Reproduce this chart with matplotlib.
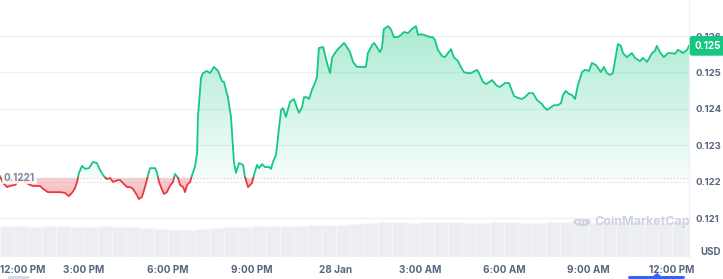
import numpy as np
import matplotlib
matplotlib.use("Agg")
import matplotlib.pyplot as plt
import matplotlib.colors as mcolors
from matplotlib.path import Path
from matplotlib.patches import Circle, FancyBboxPatch, Polygon

plt.rcParams['font.family'] = ['Inter', 'DejaVu Sans']

# hours since 12:00 PM (27 Jan) and price in USD
hours = [0.00, 0.11, 0.25, 0.36, 0.54, 0.64, 0.79, 0.89, 1.07, 1.18, 1.43, 1.54, 1.71, 1.96,
         2.14, 2.32, 2.46, 2.57, 2.68, 2.75, 2.82, 2.93, 3.04, 3.18, 3.32, 3.46, 3.57, 3.71,
         3.82, 3.93, 4.04, 4.21, 4.29, 4.39, 4.54, 4.64, 4.75, 4.89, 4.96, 5.07, 5.18, 5.29,
         5.36, 5.54, 5.61, 5.68, 5.79, 5.86, 5.96, 6.07, 6.18, 6.25, 6.36, 6.43, 6.54, 6.61,
         6.68, 6.79, 6.86, 6.96, 7.04, 7.07, 7.18, 7.25, 7.39, 7.50, 7.64, 7.79, 7.93, 8.00,
         8.14, 8.25, 8.32, 8.36, 8.43, 8.54, 8.68, 8.75, 8.86, 9.00, 9.07, 9.18, 9.25, 9.36,
         9.46, 9.61, 9.68, 9.75, 9.86, 9.93, 10.04, 10.11, 10.21, 10.36, 10.50, 10.61, 10.68,
         10.79, 10.86, 10.96, 11.04, 11.14, 11.25, 11.32, 11.39, 11.54, 11.68, 11.79, 11.86,
         11.96, 12.07, 12.21, 12.29, 12.39, 12.50, 12.61, 12.75, 12.86, 12.96, 13.07, 13.14,
         13.29, 13.36, 13.46, 13.57, 13.64, 13.71, 13.86, 13.96, 14.07, 14.21, 14.32, 14.43,
         14.57, 14.71, 14.86, 14.93, 15.07, 15.25, 15.36, 15.46, 15.54, 15.64, 15.79, 15.89,
         16.00, 16.11, 16.21, 16.36, 16.46, 16.57, 16.71, 16.82, 16.89, 17.04, 17.11, 17.25,
         17.36, 17.43, 17.57, 17.75, 17.86, 18.04, 18.18, 18.36, 18.50, 18.64, 18.75, 18.89,
         19.04, 19.18, 19.36, 19.43, 19.54, 19.64, 19.79, 19.93, 20.04, 20.11, 20.21, 20.32,
         20.43, 20.54, 20.64, 20.79, 20.89, 21.04, 21.14, 21.29, 21.46, 21.57, 21.68, 21.79,
         21.89, 22.07, 22.18, 22.25, 22.39, 22.57, 22.68, 22.86, 22.96, 23.11, 23.29, 23.39,
         23.46, 23.57, 23.71, 23.86, 24.00, 24.11, 24.21, 24.36, 24.39, 24.54, 24.61]
prices = [0.12215, 0.12196, 0.12185, 0.12188, 0.12191, 0.12199, 0.12207, 0.12199, 0.12191,
          0.12188, 0.12188, 0.12180, 0.12171, 0.12171, 0.12171, 0.12169, 0.12160, 0.12169,
          0.12182, 0.12199, 0.12224, 0.12243, 0.12235, 0.12237, 0.12254, 0.12251, 0.12232,
          0.12215, 0.12207, 0.12210, 0.12199, 0.12204, 0.12204, 0.12196, 0.12185, 0.12185,
          0.12180, 0.12163, 0.12152, 0.12158, 0.12185, 0.12218, 0.12237, 0.12237, 0.12224,
          0.12199, 0.12177, 0.12166, 0.12171, 0.12188, 0.12199, 0.12221, 0.12210, 0.12191,
          0.12185, 0.12171, 0.12191, 0.12199, 0.12218, 0.12240, 0.12279, 0.12378, 0.12485,
          0.12498, 0.12504, 0.12498, 0.12515, 0.12504, 0.12476, 0.12474, 0.12432, 0.12378,
          0.12295, 0.12251, 0.12224, 0.12251, 0.12246, 0.12213, 0.12185, 0.12196, 0.12218,
          0.12246, 0.12237, 0.12248, 0.12240, 0.12240, 0.12235, 0.12254, 0.12273, 0.12323,
          0.12397, 0.12402, 0.12378, 0.12419, 0.12427, 0.12402, 0.12389, 0.12405, 0.12432,
          0.12432, 0.12427, 0.12452, 0.12471, 0.12487, 0.12567, 0.12570, 0.12526, 0.12498,
          0.12540, 0.12553, 0.12564, 0.12575, 0.12581, 0.12570, 0.12556, 0.12529, 0.12515,
          0.12515, 0.12515, 0.12515, 0.12553, 0.12575, 0.12581, 0.12570, 0.12556, 0.12567,
          0.12619, 0.12627, 0.12619, 0.12597, 0.12597, 0.12603, 0.12611, 0.12608, 0.12619,
          0.12627, 0.12603, 0.12605, 0.12600, 0.12597, 0.12597, 0.12589, 0.12562, 0.12545,
          0.12542, 0.12553, 0.12564, 0.12542, 0.12531, 0.12515, 0.12501, 0.12498, 0.12498,
          0.12501, 0.12507, 0.12498, 0.12474, 0.12468, 0.12471, 0.12479, 0.12463, 0.12460,
          0.12471, 0.12471, 0.12435, 0.12430, 0.12427, 0.12432, 0.12443, 0.12443, 0.12424,
          0.12413, 0.12405, 0.12397, 0.12402, 0.12410, 0.12410, 0.12416, 0.12438, 0.12449,
          0.12441, 0.12438, 0.12427, 0.12465, 0.12501, 0.12507, 0.12504, 0.12526, 0.12520,
          0.12501, 0.12515, 0.12498, 0.12493, 0.12498, 0.12578, 0.12573, 0.12553, 0.12542,
          0.12553, 0.12540, 0.12531, 0.12540, 0.12529, 0.12553, 0.12559, 0.12573, 0.12556,
          0.12542, 0.12553, 0.12553, 0.12551, 0.12562, 0.12556, 0.12553, 0.12562, 0.12573]

# volume, one bar per half hour (relative units)
volume = [3.1, 3.1, 3.0, 3.1, 3.1, 3.0, 3.0, 3.1, 3.0, 3.0, 2.9,
          2.8, 2.7, 2.7, 2.8,
          2.9, 3.0, 3.0, 3.1, 3.1, 3.1, 3.1, 3.2, 3.2, 3.2,
          3.3, 3.4, 3.5, 3.5, 3.4, 3.5, 3.5, 3.5, 3.4, 3.4, 3.5, 3.5, 3.4,
          3.4, 3.5, 3.5, 3.5, 3.4, 3.5, 3.5, 3.5, 3.4, 3.4, 3.5, 3.5]
vol_step = 0.5

base_price = 0.1221
yticks = [0.121, 0.122, 0.123, 0.124, 0.125, 0.126]
xticks = [0, 3, 6, 9, 12, 15, 18, 21, 24]
xlabels = ['12:00 PM', '3:00 PM', '6:00 PM', '9:00 PM', '28 Jan',
           '3:00 AM', '6:00 AM', '9:00 AM', '12:00 PM']

GREEN = '#16c784'
RED = '#ea3943'
TXT = '#58667e'

t = np.array(hours)
p = np.array(prices)

fig = plt.figure(figsize=(7.23, 2.79), dpi=100)
W, H = 723, 279
ax_rect = [0, 22 / H, 689 / W, 257 / H]

# volume underneath
vax = fig.add_axes([0, 22 / H, 689 / W, 39 / H], zorder=0)
vt = np.arange(len(volume)) * vol_step
vax.bar(vt, volume, width=vol_step, align='edge', color='#eceef2',
        edgecolor='#f6f7f9', linewidth=0.6)
vax.set_xlim(0, t[-1])
vax.set_ylim(0, 3.9)
vax.axis('off')

ax = fig.add_axes(ax_rect, zorder=1)
ax.patch.set_alpha(0)
ylo, yhi = 0.119929, 0.126989

for yv in yticks:
    ax.axhline(yv, color='#eff2f5', lw=1.0, zorder=0)


def gradient_fill(mask, upper, a_near, a_far, color):
    poly = ax.fill_between(t, p, base_price, where=mask, interpolate=True,
                           facecolor='none', edgecolor='none')
    paths = poly.get_paths()
    if not paths:
        return
    clip = Path.make_compound_path(*paths)
    grad = np.zeros((256, 1, 4))
    grad[..., :3] = mcolors.to_rgb(color)
    if upper:
        grad[..., 3] = np.linspace(a_near, a_far, 256)[:, None]
        ext = [0, t[-1], base_price, p.max()]
    else:
        grad[..., 3] = np.linspace(a_far, a_near, 256)[:, None]
        ext = [0, t[-1], p.min(), base_price]
    im = ax.imshow(grad, extent=ext, origin='lower', aspect='auto',
                   interpolation='bilinear', zorder=1)
    im.set_clip_path(clip, transform=ax.transData)


gradient_fill(p >= base_price, True, 0.04, 0.36, GREEN)
gradient_fill(p <= base_price, False, 0.22, 0.38, RED)

# split the line at the base price
tt, pp = [t[0]], [p[0]]
for i in range(len(t) - 1):
    a, b = p[i] - base_price, p[i + 1] - base_price
    if a * b < 0:
        tc = t[i] + (-a) * (t[i + 1] - t[i]) / (b - a)
        tt.append(tc)
        pp.append(base_price)
    tt.append(t[i + 1])
    pp.append(p[i + 1])
tt, pp = np.array(tt), np.array(pp)
ax.plot(tt, np.ma.masked_where(pp < base_price - 1e-9, pp), color=GREEN, lw=1.3, zorder=3)
ax.plot(tt, np.ma.masked_where(pp > base_price + 1e-9, pp), color=RED, lw=1.3, zorder=3)

ax.axhline(base_price, color='#c2c6cf', lw=0.8, ls=(0, (1, 2)), zorder=2)
ax.text(0.14, base_price, '0.1221', fontsize=7.2, fontweight='bold', color='#7d8597',
        va='center', ha='left', zorder=4,
        bbox=dict(boxstyle='square,pad=0.15', fc='white', ec='none', alpha=0.8))

ax.set_ylim(ylo, yhi)
ax.set_xlim(0, t[-1])

# axes styling
for s in ['top', 'left', 'bottom']:
    ax.spines[s].set_visible(False)
ax.spines['right'].set_color('#eff2f5')
ax.spines['right'].set_linewidth(1.0)
ax.yaxis.tick_right()
ax.set_yticks(yticks)
ax.set_yticklabels([f'{v:.3f}' for v in yticks])
ax.set_xticks(xticks)
ax.set_xticklabels(xlabels)
ax.tick_params(axis='y', length=0, pad=5, labelsize=6.9, labelcolor=TXT)
ax.tick_params(axis='x', length=0, pad=5.5, labelsize=7.2, labelcolor=TXT)
for lab in ax.get_yticklabels() + ax.get_xticklabels():
    lab.set_fontweight('bold')
ax.get_xticklabels()[0].set_horizontalalignment('left')

# current price tag
ax.text(1.008, p[-1], '0.125', transform=ax.get_yaxis_transform(), fontsize=7,
        fontweight='bold', color='white', va='center', ha='left', zorder=5,
        bbox=dict(boxstyle='round,pad=0.5,rounding_size=0.25', fc=GREEN, ec='none'),
        clip_on=False)

fig.text(700 / W, 1 - 252 / H, 'USD', fontsize=7, fontweight='bold', color=TXT,
         va='center', ha='left')

# watermark
fig.add_artist(Circle((582 / W, 1 - 222 / H), 7.5 / W, transform=fig.transFigure,
                      fill=False, ec='#cdd3de', lw=1.5))
fig.text(582 / W, 1 - 223 / H, 'm', fontsize=8, fontweight='bold', color='#cdd3de',
         ha='center', va='center')
fig.text(594 / W, 1 - 222 / H, 'CoinMarketCap', fontsize=9, fontweight='bold',
         color='#cdd3de', ha='left', va='center')

# range slider handles at the bottom
fig.add_artist(FancyBboxPatch((628 / W, 0), 57 / W, 3 / H, transform=fig.transFigure,
                              boxstyle='round,pad=0,rounding_size=0.004',
                              fc='#3861fb', ec='none'))
fig.add_artist(Polygon([[653 / W, 3 / H], [657 / W, 6 / H], [661 / W, 3 / H]],
                       transform=fig.transFigure, fc='#3861fb', ec='none'))
fig.add_artist(FancyBboxPatch((8 / W, 0), 22 / W, 3 / H, transform=fig.transFigure,
                              boxstyle='round,pad=0,rounding_size=0.004',
                              fc='#d5dbe6', ec='none'))

fig.savefig('out.png', dpi=100)
